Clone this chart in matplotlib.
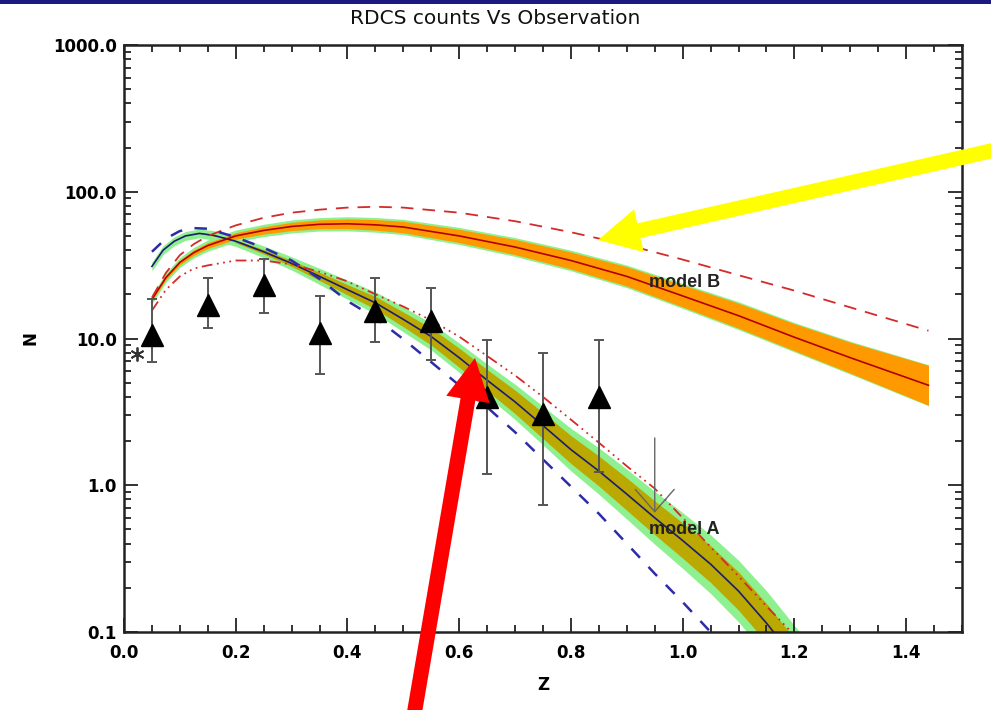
import matplotlib
matplotlib.use('Agg')
import matplotlib.pyplot as plt
import matplotlib.transforms as mtransforms
from matplotlib.patches import FancyArrow, Rectangle
from matplotlib.ticker import FixedLocator, LogLocator, MultipleLocator, FormatStrFormatter, NullFormatter
import numpy as np

# observed cluster counts per redshift bin
obs_z = [0.05, 0.15, 0.25, 0.35, 0.45, 0.55, 0.65, 0.75, 0.85]
obs_n = [10.5, 17.0, 23.0, 10.9, 15.5, 13.1, 3.97, 3.04, 3.97]
obs_lo = [6.9, 11.8, 14.9, 5.75, 9.4, 7.1, 1.2, 0.73, 1.23]
obs_hi = [18.6, 25.9, 34.9, 19.6, 25.9, 22.1, 9.7, 8.0, 9.7]
limit_z = 0.95
limit_top, limit_bottom = 2.1, 0.65
star_z, star_n = 0.024, 7.9

# model A: central curve and band half-widths (dex)
za = [0.05, 0.07, 0.09, 0.11, 0.135, 0.16, 0.2, 0.25, 0.3, 0.35, 0.4, 0.45,
      0.5, 0.55, 0.6, 0.65, 0.7, 0.75, 0.8, 0.85, 0.9, 0.95, 1.0, 1.05,
      1.1, 1.15, 1.2, 1.25]
na = [31, 40, 46, 50, 52, 50.5, 46, 39, 32.5, 26.5, 21.5, 17.5,
      13.5, 10.3, 7.4, 5.2, 3.7, 2.55, 1.75, 1.25, 0.87, 0.6, 0.42, 0.29,
      0.19, 0.115, 0.066, 0.038]
wa_outer = [0.03, 0.03, 0.03, 0.03, 0.03, 0.032, 0.035, 0.04, 0.045, 0.055, 0.065, 0.075,
            0.085, 0.092, 0.1, 0.11, 0.12, 0.132, 0.145, 0.158, 0.17, 0.18, 0.19, 0.2,
            0.21, 0.22, 0.225, 0.23]
wa_inner = [0.0, 0.0, 0.0, 0.0, 0.0, 0.005, 0.01, 0.015, 0.02, 0.028, 0.035, 0.043,
            0.05, 0.058, 0.065, 0.072, 0.08, 0.088, 0.095, 0.102, 0.11, 0.115, 0.12, 0.125,
            0.13, 0.133, 0.135, 0.137]

# model B
zb = [0.05, 0.075, 0.1, 0.125, 0.15, 0.2, 0.25, 0.3, 0.35, 0.4, 0.45, 0.5,
      0.6, 0.7, 0.8, 0.9, 1.0, 1.1, 1.2, 1.3, 1.44]
nb = [18.5, 26, 33, 38.5, 43, 50, 54.5, 58, 60, 60.5, 59.5, 57.5,
      50, 42, 34, 26.5, 19.5, 14.3, 10.2, 7.4, 4.8]
wb_outer = [0.03, 0.032, 0.034, 0.036, 0.038, 0.04, 0.042, 0.044, 0.046, 0.048, 0.05, 0.052,
            0.058, 0.064, 0.07, 0.077, 0.085, 0.095, 0.1, 0.112, 0.14]
wb_inner = [0.012, 0.014, 0.016, 0.018, 0.02, 0.022, 0.025, 0.028, 0.03, 0.033, 0.036, 0.039,
            0.045, 0.052, 0.058, 0.066, 0.075, 0.085, 0.092, 0.105, 0.136]

# alternative curves
zd = [0.05, 0.075, 0.1, 0.125, 0.15, 0.2, 0.25, 0.3, 0.35, 0.4, 0.45, 0.5,
      0.6, 0.7, 0.8, 0.9, 1.0, 1.1, 1.2, 1.3, 1.44]
b_dashed = [19, 28, 37, 44, 50, 59, 66.5, 72, 75.5, 78, 79, 78,
            72, 63, 53, 43.5, 34.5, 27, 21.2, 16.3, 11.3]

ze = [0.05, 0.075, 0.1, 0.125, 0.15, 0.2, 0.25, 0.3, 0.35, 0.4, 0.45, 0.5,
      0.55, 0.6, 0.65, 0.7, 0.75, 0.8, 0.85, 0.9, 0.95, 1.0, 1.05, 1.1]
a_dashed = [39, 48, 54, 56.5, 56, 49, 41.5, 34, 25.5, 18, 13.8, 9.9,
            6.9, 4.8, 3.4, 2.3, 1.5, 0.98, 0.64, 0.4, 0.25, 0.16, 0.1, 0.055]

zf = [0.05, 0.075, 0.1, 0.125, 0.15, 0.2, 0.25, 0.3, 0.35, 0.4, 0.45, 0.5,
      0.55, 0.6, 0.65, 0.7, 0.75, 0.8, 0.85, 0.9, 0.95, 1.0, 1.05, 1.1,
      1.15, 1.2, 1.25]
a_dashdot = [15.5, 21.5, 26.5, 30, 31.5, 34, 34, 32, 28.5, 24.5, 20, 16.5,
             13.3, 10.3, 7.6, 5.6, 4.0, 2.8, 1.95, 1.35, 0.95, 0.6, 0.38, 0.24,
             0.15, 0.095, 0.055]

xticks = [0.0, 0.2, 0.4, 0.6, 0.8, 1.0, 1.2, 1.4]
yticks = [0.1, 1.0, 10.0, 100.0, 1000.0]

plt.rcParams['font.family'] = ['DejaVu Sans']

fig = plt.figure(figsize=(9.91, 7.10), dpi=100)
ax = fig.add_axes([124 / 991, 78 / 710, 838 / 991, 587 / 710])
ax.set_yscale('log')
ax.set_xlim(0, 1.5)
ax.set_ylim(0.1, 1000)


def band(z, n, w):
    n = np.asarray(n)
    w = np.asarray(w)
    return n * 10 ** (-w), n * 10 ** w


lo, hi = band(za, na, wa_outer)
ax.fill_between(za, lo, hi, color='#8ef08e', lw=0, zorder=1)
lo, hi = band(za, na, wa_inner)
ax.fill_between(za, lo, hi, color='#bba800', lw=0, zorder=1.1)
lo, hi = band(zb, nb, wb_outer)
ax.fill_between(zb, lo, hi, color='#8ef08e', lw=0, zorder=1.2)
lo, hi = band(zb, nb, wb_inner)
ax.fill_between(zb, lo, hi, color='#ff9900', lw=0, zorder=1.3)

ax.plot(za, na, color='#1c1c70', lw=1.2, zorder=3)
ax.plot(zb, nb, color='#b00000', lw=1.2, zorder=3)
ax.plot(zd, b_dashed, color='#d42a2a', lw=1.3, dashes=(7, 5), zorder=3)
ax.plot(ze, a_dashed, color='#2c2ca8', lw=1.8, dashes=(5, 5), zorder=3)
ax.plot(zf, a_dashdot, color='#d42a2a', lw=1.3,
        dashes=(6, 2.5, 1, 2.5, 1, 2.5, 1, 2.5), zorder=3)

yerr = [np.array(obs_n) - np.array(obs_lo), np.array(obs_hi) - np.array(obs_n)]
ax.errorbar(obs_z, obs_n, yerr=yerr, fmt='none', ecolor='#555555',
            elinewidth=1.4, capsize=3.5, capthick=1.4, zorder=4)
ax.plot(obs_z, obs_n, '^', color='black', markersize=16.5, zorder=5)

ax.annotate('', xy=(limit_z, limit_bottom), xytext=(limit_z, limit_top),
            arrowprops=dict(arrowstyle='->,head_length=0.8,head_width=0.7',
                            color='#666666', lw=1.0, mutation_scale=20,
                            shrinkA=0, shrinkB=0), zorder=4)
ax.plot([star_z], [star_n], marker=(6, 2, 0), color='#333333',
        markersize=10, mew=1.3, zorder=5)

ax.text(0.94, 24, 'model B', fontsize=13, fontweight='bold', color='#222222',
        family='Liberation Sans', va='center', ha='left', zorder=6)
ax.text(0.94, 0.5, 'model A', fontsize=13, fontweight='bold', color='#222222',
        family='Liberation Sans', va='center', ha='left', zorder=6)

# ticks on all four sides, pointing in
ax.xaxis.set_major_locator(FixedLocator(xticks))
ax.xaxis.set_minor_locator(MultipleLocator(0.05))
ax.xaxis.set_major_formatter(FormatStrFormatter('%.1f'))
ax.yaxis.set_major_locator(FixedLocator(yticks))
ax.yaxis.set_minor_locator(LogLocator(base=10, subs=np.arange(2, 10)))
ax.yaxis.set_major_formatter(FormatStrFormatter('%.1f'))
ax.yaxis.set_minor_formatter(NullFormatter())
ax.tick_params(which='both', direction='in', top=True, right=True,
               color='#222222', width=1.3)
ax.tick_params(which='major', length=10)
ax.tick_params(which='minor', length=5)
ax.tick_params(axis='x', which='major', pad=9)
ax.tick_params(axis='y', which='major', pad=5)
for lab in ax.get_xticklabels() + ax.get_yticklabels():
    lab.set_fontweight('bold')
    lab.set_fontsize(12)
for sp in ax.spines.values():
    sp.set_linewidth(1.8)
    sp.set_color('#222222')

ax.set_xlabel('Z', fontsize=12, fontweight='bold', labelpad=10)
ax.set_ylabel('N', fontsize=12, fontweight='bold', labelpad=10)
fig.text(0.5, 0.974, 'RDCS counts Vs Observation', fontsize=14.5,
         ha='center', va='center', color='#111111')

# top banner strip
fig.add_artist(Rectangle((0, 1 - 4 / 710), 1, 4 / 710, transform=fig.transFigure,
                         color='#1a1a80', lw=0))

# pointer arrows, in pixel units
px = mtransforms.IdentityTransform()
fig.add_artist(FancyArrow(995, 560, -397, -90, width=15, head_width=44,
                          head_length=42, length_includes_head=True,
                          color='#ffff00', lw=0, transform=px, zorder=10))
fig.add_artist(FancyArrow(414, -5, 61, 357, width=15, head_width=44,
                          head_length=42, length_includes_head=True,
                          color='#ff0000', lw=0, transform=px, zorder=10))

fig.savefig('out.png', dpi=100)
